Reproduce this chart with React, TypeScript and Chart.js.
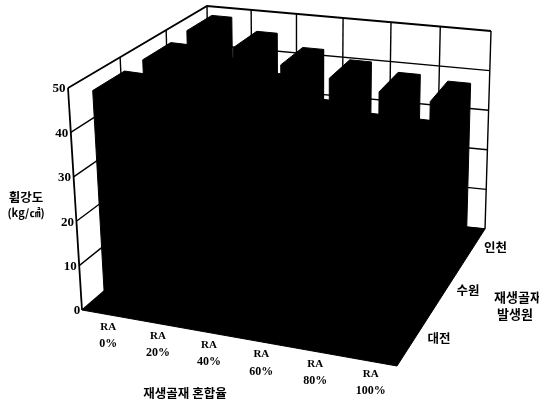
import React, { useEffect, useRef } from "react";
import { Chart, registerables } from "chart.js";

Chart.register(...registerables);

// ---- data ----
const categories = ["RA 0%", "RA 20%", "RA 40%", "RA 60%", "RA 80%", "RA 100%"];
const sources = ["대전", "수원", "인천"];
const valueTicks = [0, 10, 20, 30, 40, 50];
const daejeon = [48.5, 46, 44, 41, 38, 36];
const suwon = [48.5, 46.5, 44, 39, 37, 37];
const incheon = [49, 46, 43, 41, 39, 38];
const rows = [daejeon, suwon, incheon];

const yTitle = ["휨강도", "(kg/㎠)"];
const xTitle = "재생골재 혼합율";
const zTitle = ["재생골재", "발생원"];

// ---- the 3D box as seen on the page ----
const MAX = 50;
const CORNERS = {
  f0: [82, 310], f1: [397, 366], b1: [485, 229], b0: [210, 200],
  F0: [68, 88], F1: [400, 140], B1: [491, 31], B0: [207, 6],
};
const warp = (d: number, k: number) => (d * k) / (1 + (k - 1) * d);
const lerp = (a: number, b: number, t: number) => a + (b - a) * t;

function project(col: number, row: number, value: number) {
  const u = warp(col / categories.length, 0.92);
  const v = warp(row / sources.length, 1.2);
  const w = value / MAX;
  const c = CORNERS;
  const at = (i: 0 | 1) => {
    const floor = lerp(lerp(c.f0[i], c.f1[i], u), lerp(c.b0[i], c.b1[i], u), v);
    const top = lerp(lerp(c.F0[i], c.F1[i], u), lerp(c.B0[i], c.B1[i], u), v);
    return lerp(floor, top, w);
  };
  return { x: at(0), y: at(1) };
}

const BAR_W = 0.45;
const BAR_D = 0.62;

function barOutline(col: number, row: number, value: number) {
  const c0 = col + (1 - BAR_W) / 2;
  const c1 = c0 + BAR_W;
  const r0 = row + (1 - BAR_D) / 2;
  const r1 = r0 + BAR_D;
  return [
    project(c0, r0, 0),
    project(c0, r0, value),
    project(c0, r1, value),
    project(c1, r1, value),
    project(c1, r1, 0),
    project(c1, r0, 0),
  ];
}

function buildDatasets() {
  const line = (data: { x: number; y: number }[], width = 1.5) => ({
    data,
    showLine: true,
    borderColor: "#000",
    borderWidth: width,
    pointRadius: 0,
    fill: false,
    polygon: false,
  });
  const poly = (data: { x: number; y: number }[]) => ({
    data,
    showLine: true,
    borderColor: "#000",
    borderWidth: 1,
    pointRadius: 0,
    fill: false,
    polygon: true,
  });
  const out: any[] = [];
  const nC = categories.length;
  const nR = sources.length;
  // floor
  out.push(poly([project(0, 0, 0), project(nC, 0, 0), project(nC, nR, 0), project(0, nR, 0)]));
  // value lines on the side and back walls
  valueTicks.forEach((t) => {
    out.push(line([project(0, 0, t), project(0, nR, t), project(nC, nR, t)], t === MAX ? 1.8 : 1.4));
  });
  // uprights on the side wall
  for (let r = 0; r <= nR; r++) out.push(line([project(0, r, 0), project(0, r, MAX)], r === 0 ? 1.8 : 1.4));
  // uprights on the back wall
  for (let c = 1; c <= nC; c++) out.push(line([project(c, nR, 0), project(c, nR, MAX)], 1.4));
  // bars
  rows.forEach((vals, r) => vals.forEach((v, c) => out.push(poly(barOutline(c, r, v)))));
  return out;
}

const SERIF = "'Liberation Serif', serif";
const KR = "'Noto Sans CJK KR', sans-serif";

const polygonPlugin = {
  id: "polygonFill",
  beforeDatasetsDraw(chart: any) {
    const ctx = chart.ctx;
    chart.data.datasets.forEach((ds: any, i: number) => {
      if (!ds.polygon) return;
      const pts = chart.getDatasetMeta(i).data;
      ctx.save();
      ctx.fillStyle = "#000";
      ctx.beginPath();
      pts.forEach((p: any, k: number) => (k ? ctx.lineTo(p.x, p.y) : ctx.moveTo(p.x, p.y)));
      ctx.closePath();
      ctx.fill();
      ctx.restore();
    });
  },
};

const labelPlugin = {
  id: "axisText",
  afterDraw(chart: any) {
    const ctx = chart.ctx;
    const sx = chart.scales.x;
    const sy = chart.scales.y;
    const put = (s: string, x: number, y: number, font: string) => {
      ctx.font = font;
      ctx.fillText(s, sx.getPixelForValue(x), sy.getPixelForValue(y));
    };
    ctx.save();
    ctx.fillStyle = "#000";
    ctx.textAlign = "center";
    ctx.textBaseline = "middle";
    valueTicks.forEach((t) => {
      const p = project(0, 0, t);
      put(String(t), p.x - (t === 0 ? 5 : 9), p.y + 1, `bold 13px ${SERIF}`);
    });
    categories.forEach((c, i) => {
      const p = project(i + 0.5, 0, 0);
      const [a, b] = c.split(" ");
      put(a, p.x + 2, p.y + 13, `bold 11px ${SERIF}`);
      put(b, p.x + 2, p.y + 30, `bold 12px ${SERIF}`);
    });
    sources.forEach((s, r) => {
      const p = project(categories.length, r + 0.5, 0);
      put(s, p.x + (r === 0 ? 25 : 23), p.y - 1, `bold 12.5px ${KR}`);
    });
    put(yTitle[0], 26, 197, `bold 12.5px ${KR}`);
    put(yTitle[1], 26, 213, `bold 11px ${KR}`);
    put(xTitle, 185, 393, `bold 12.5px ${KR}`);
    put(zTitle[0], 518, 297, `bold 13px ${KR}`);
    put(zTitle[1], 515, 314, `bold 13px ${KR}`);
    ctx.restore();
  },
};

export default function App() {
  const ref = useRef<HTMLCanvasElement>(null);
  useEffect(() => {
    document.body.style.margin = "0";
    document.body.style.background = "#fff";
    const chart = new Chart(ref.current as HTMLCanvasElement, {
      type: "scatter",
      data: { datasets: buildDatasets() },
      options: {
        responsive: false,
        animation: false,
        layout: { padding: 0 },
        plugins: { legend: { display: false }, tooltip: { enabled: false } },
        scales: {
          x: { type: "linear", min: 0, max: 539, display: false },
          y: { type: "linear", min: 0, max: 405, reverse: true, display: false },
        },
      },
      plugins: [polygonPlugin, labelPlugin],
    } as any);
    return () => chart.destroy();
  }, []);
  return <canvas ref={ref} width={539} height={405} style={{ display: "block" }} />;
}
